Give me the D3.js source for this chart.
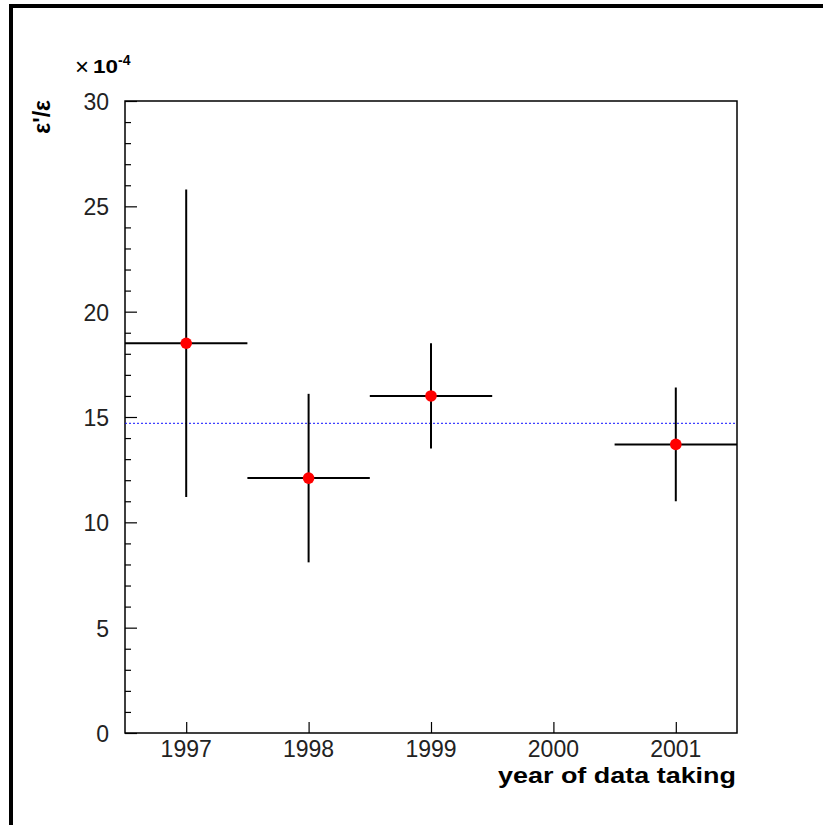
<!DOCTYPE html>
<html>
<head>
<meta charset="utf-8">
<script src="https://cdn.jsdelivr.net/npm/d3@7"></script>
<style>
  body { margin: 0; background: #fff; }
  svg { display: block; font-family: "Liberation Sans", Arial, sans-serif; }
</style>
</head>
<body>
<div id="chart"></div>
<script>
// epsilon'/epsilon per year, in units of 1e-4
var years = [1997, 1998, 1999, 2001]
var values = [18.5, 12.1, 16.0, 13.7]
var errors = [7.3, 4.0, 2.5, 2.7]
var xHalfWidth = [0.5, 0.5, 0.5, 0.5]
var average = [14.7]
var xTicks = [1997, 1998, 1999, 2000, 2001]
var yTicks = [0, 5, 10, 15, 20, 25, 30]

var width = 823, height = 825
var margin = {top: 101, right: 86, bottom: 92, left: 125}
var innerW = width - margin.left - margin.right
var innerH = height - margin.top - margin.bottom

var svg = d3.select("#chart")
  .append("svg")
    .attr("width", width)
    .attr("height", height)

// canvas frame (only left + top visible)
svg.append("rect")
  .attr("x", 11).attr("y", 6)
  .attr("width", 900).attr("height", 900)
  .attr("fill", "none")
  .attr("stroke", "#000")
  .attr("stroke-width", 4)

var g = svg.append("g")
  .attr("transform", "translate(" + margin.left + "," + margin.top + ")")

var x = d3.scaleLinear()
  .domain([1996.5, 2001.5])
  .range([0, innerW])

var y = d3.scaleLinear()
  .domain([0, 30])
  .range([innerH, 0])

// ticks point inwards, like ROOT
var yAxis = g.append("g")
  .call(d3.axisRight(y).tickValues(d3.range(0, 31, 1)).tickSize(6).tickFormat(""))
yAxis.select(".domain").remove()
yAxis.selectAll(".tick line")
  .attr("x2", function(d) { return d % 5 === 0 ? 12 : 6 })
  .attr("stroke-width", 1.2)

var xAxis = g.append("g")
  .attr("transform", "translate(0," + innerH + ")")
  .call(d3.axisTop(x).tickValues(xTicks).tickSize(11).tickFormat(""))
xAxis.select(".domain").remove()
xAxis.selectAll(".tick line").attr("stroke-width", 1.2)

// labels
g.selectAll(".ylab")
  .data(yTicks)
  .enter().append("text")
    .attr("x", -16)
    .attr("y", function(d) { return y(d) + 9 })
    .attr("text-anchor", "end")
    .attr("font-size", 23)
    .attr("fill", "#222")
    .text(function(d) { return d })

g.selectAll(".xlab")
  .data(xTicks)
  .enter().append("text")
    .attr("x", function(d) { return x(d) })
    .attr("y", innerH + 24)
    .attr("text-anchor", "middle")
    .attr("font-size", 23)
    .attr("fill", "#222")
    .text(function(d) { return d })

// frame
g.append("rect")
  .attr("width", innerW).attr("height", innerH)
  .attr("fill", "none")
  .attr("stroke", "#000")
  .attr("stroke-width", 1.5)

// average line
g.selectAll(".avg")
  .data(average)
  .enter().append("line")
    .attr("x1", 0).attr("x2", innerW)
    .attr("y1", function(d) { return y(d) }).attr("y2", function(d) { return y(d) })
    .attr("stroke", "#1010ff")
    .attr("stroke-width", 1.3)
    .attr("stroke-dasharray", "2,2")
    .attr("opacity", 0.8)

var pts = years.map(function(yr, i) {
  return {x: yr, v: values[i], e: errors[i], xe: xHalfWidth[i]}
})

// error bars
var bars = g.append("g").selectAll("g")
  .data(pts)
  .enter().append("g")
bars.append("line")
  .attr("x1", function(d) { return x(d.x) }).attr("x2", function(d) { return x(d.x) })
  .attr("y1", function(d) { return y(d.v + d.e) }).attr("y2", function(d) { return y(d.v - d.e) })
  .attr("stroke", "#000").attr("stroke-width", 2)
bars.append("line")
  .attr("x1", function(d) { return x(d.x - d.xe) }).attr("x2", function(d) { return x(d.x + d.xe) })
  .attr("y1", function(d) { return y(d.v) }).attr("y2", function(d) { return y(d.v) })
  .attr("stroke", "#000").attr("stroke-width", 2)
bars.append("circle")
  .attr("cx", function(d) { return x(d.x) })
  .attr("cy", function(d) { return y(d.v) })
  .attr("r", 5.8)
  .attr("fill", "#ff0000")

// axis titles
svg.append("text")
  .attr("x", 498)
  .attr("y", 783)
  .attr("font-size", 22)
  .attr("font-weight", "bold")
  .attr("textLength", 238)
  .attr("lengthAdjust", "spacingAndGlyphs")
  .text("year of data taking")

svg.append("text")
  .attr("transform", "translate(50,100) rotate(-90)")
  .attr("text-anchor", "end")
  .attr("font-size", 23)
  .attr("font-weight", "bold")
  .text("\u03b5'/\u03b5")

// exponent
svg.append("text")
  .attr("x", 75).attr("y", 75)
  .attr("font-size", 24)
  .text("\u00d7")
svg.append("text")
  .attr("x", 93).attr("y", 73)
  .attr("font-size", 19)
  .attr("font-weight", "bold")
  .attr("textLength", 25)
  .attr("lengthAdjust", "spacingAndGlyphs")
  .text("10")
svg.append("text")
  .attr("x", 118).attr("y", 65)
  .attr("font-size", 14)
  .attr("font-weight", "bold")
  .text("-4")
</script>
</body>
</html>
